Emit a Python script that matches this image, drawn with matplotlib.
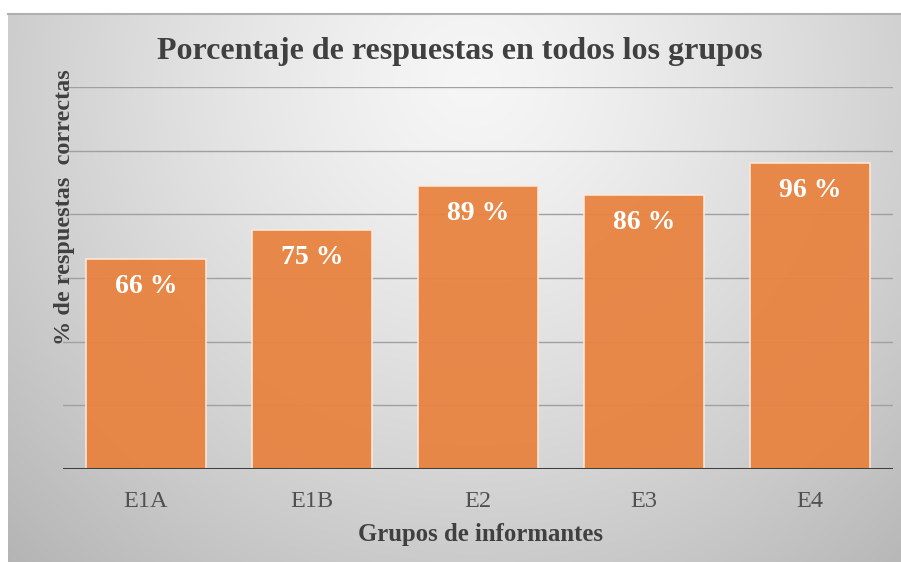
import numpy as np
import matplotlib
matplotlib.use("Agg")
import matplotlib.pyplot as plt

categories = ["E1A", "E1B", "E2", "E3", "E4"]
values = [66, 75, 89, 86, 96]
labels = ["66 %", "75 %", "89 %", "86 %", "96 %"]
title = "Porcentaje de respuestas en todos los grupos"
ylabel = "% de respuestas  correctas"
xlabel = "Grupos de informantes"

W, H = 901, 562
fig = plt.figure(figsize=(W / 100, H / 100), dpi=100)
fig.patch.set_facecolor("white")

# background radial gradient panel
bx0, by0, bx1, by1 = 8, 14, 901, 562
bg = fig.add_axes([bx0 / W, 1 - by1 / H, (bx1 - bx0) / W, (by1 - by0) / H])
bg.set_zorder(-5)
ny, nx = 200, 320
yy, xx = np.mgrid[0:ny, 0:nx]
cx, cy = nx * 0.52, ny * 0.12
r = np.sqrt(((xx - cx) / (nx * 0.62)) ** 2 + ((yy - cy) / (ny * 1.0)) ** 2)
g = 0.965 - 0.20 * np.clip(r, 0, 1.3) ** 1.3
img = np.dstack([g, g, g])
bg.imshow(img, aspect="auto", extent=[0, 1, 0, 1], origin="upper", interpolation="bilinear")
bg.plot([0, 1], [1, 1], color="#b0b0b0", lw=1.5, transform=bg.transAxes, clip_on=False)
bg.axis("off")

ax = fig.add_axes([63 / W, 1 - 469 / H, (893 - 63) / W, (469 - 87) / H])
ax.patch.set_alpha(0)
x = np.arange(len(categories))
bars = ax.bar(x, values, width=0.72, color="#E8823F", alpha=0.94,
              edgecolor="#FCE9DC", linewidth=1.2, zorder=3)
ax.set_xlim(-0.5, len(categories) - 0.5)
ax.set_ylim(0, 120)
for yv in range(20, 121, 20):
    ax.axhline(yv, color="#a0a0a0", lw=1.0, zorder=1)
ax.axhline(0, color="#404040", lw=2.2, zorder=4)
for s in ax.spines.values():
    s.set_visible(False)
ax.set_yticks([])
ax.set_xticks(x)
ax.set_xticklabels(categories, fontfamily="Liberation Serif", fontsize=17.5, color="#505050")
ax.tick_params(axis="x", length=0, pad=16)

for xi, v, lab in zip(x, values, labels):
    ax.text(xi, v - 8.6, lab, ha="center", va="center", color="white",
            fontfamily="Liberation Serif", fontweight="bold", fontsize=20, zorder=5)

fig.text(460 / W, 1 - 51 / H, title, ha="center", va="center",
         fontfamily="Liberation Serif", fontweight="bold", fontsize=23, color="#404040")
fig.text(65 / W, 1 - 207 / H, ylabel, ha="center", va="center", rotation=90,
         fontfamily="Liberation Serif", fontweight="bold", fontsize=17.5, color="#404040")
fig.text(480 / W, 1 - 534 / H, xlabel, ha="center", va="center",
         fontfamily="Liberation Serif", fontweight="bold", fontsize=17.8, color="#404040")

fig.savefig("out.png", dpi=100)
